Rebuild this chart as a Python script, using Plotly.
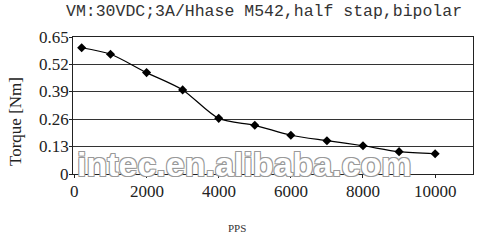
import plotly.graph_objects as go

pps = [200, 1000, 2000, 3000, 4000, 5000, 6000, 7000, 8000, 9000, 10000]
torque = [0.599, 0.568, 0.481, 0.399, 0.264, 0.231, 0.184, 0.158, 0.134, 0.106, 0.096]
y_ticks = [0, 0.13, 0.26, 0.39, 0.52, 0.65]
y_labels = ["0", "0.13", "0.26", "0.39", "0.52", "0.65"]
x_ticks = [0, 2000, 4000, 6000, 8000, 10000]
x_labels = ["0", "2000", "4000", "6000", "8000", "10000"]

fig = go.Figure()
fig.add_trace(go.Scatter(
    x=pps, y=torque, mode="lines+markers",
    line=dict(color="black", width=1.2, shape="spline", smoothing=0.8),
    marker=dict(symbol="diamond", size=7, color="black"),
    showlegend=False,
))

serif = "Liberation Serif"
W, H = 489, 240
L, R, T, B = 73, 16, 37, 66
pw, ph = W - L - R, H - T - B

def px(x, y):
    return (x - L) / pw, 1 - (y - T) / ph

annotations = []
for t, (x, y), fnt, extra in [
    ("VM:30VDC;3A/Hhase M542,half stap,bipolar", (264, 12),
     dict(family="Liberation Mono", size=16.5, color="#333"), {}),
    ("Torque [Nm]", (15, 122), dict(family=serif, size=17, color="#222"), dict(textangle=-90)),
    ("PPS", (237, 228), dict(family=serif, size=11, color="#333"), {}),
    ("intec.en.alibaba.com", (244, 164),
     dict(family="Liberation Sans", size=34, color="white", weight="bold",
          shadow="1px 1px 0 #999, -1px -1px 0 #999, 1px -1px 0 #999, -1px 1px 0 #999"), {}),
]:
    ax, ay = px(x, y)
    annotations.append(dict(text=t, x=ax, y=ay, xref="paper", yref="paper",
                            xanchor="center", yanchor="middle", showarrow=False,
                            font=fnt, **extra))

# tick labels placed on the axes' own scales
for v, lab in zip(x_ticks, x_labels):
    annotations.append(dict(text=lab, x=v, y=0, xref="x", yref="paper",
                            xanchor="center", yanchor="top", yshift=-6, showarrow=False,
                            font=dict(family=serif, size=17, color="#222")))
for v, lab in zip(y_ticks, y_labels):
    annotations.append(dict(text=lab, x=0, y=v, xref="paper", yref="y",
                            xanchor="right", yanchor="middle", xshift=-2, showarrow=False,
                            font=dict(family=serif, size=17, color="#222")))

fig.update_layout(
    width=W, height=H,
    margin=dict(l=L, r=R, t=T, b=B),
    paper_bgcolor="white", plot_bgcolor="white",
    annotations=annotations,
)
fig.update_xaxes(
    range=[-40, 11050], tickvals=x_ticks, showticklabels=False,
    showgrid=False, zeroline=False,
    showline=True, linecolor="#222", linewidth=1.2, mirror=True,
    ticks="outside", ticklen=3, tickcolor="#222",
)
fig.update_yaxes(
    range=[0, 0.65], tickvals=y_ticks, showticklabels=False,
    showgrid=True, gridcolor="#333", gridwidth=1.3, zeroline=False,
    showline=True, linecolor="#222", linewidth=1.2, mirror=True,
    ticks="outside", ticklen=3, tickcolor="#222",
)
fig.write_html("out.html")
